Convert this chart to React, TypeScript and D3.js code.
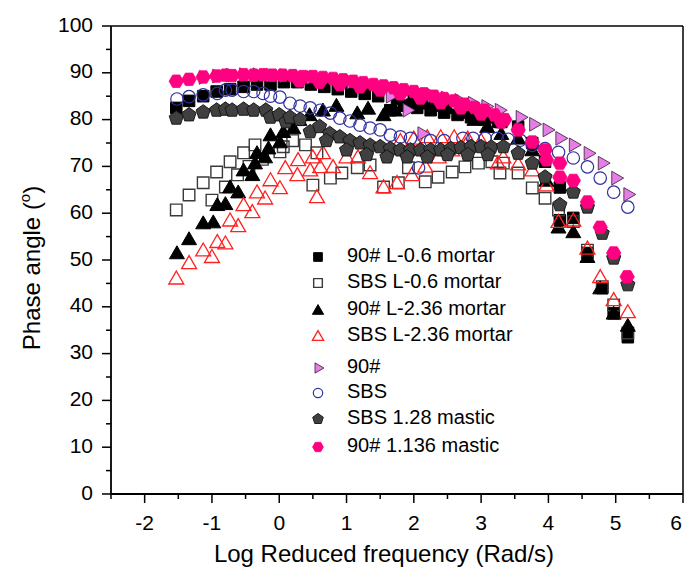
import React from "react";
import * as d3 from "d3";

const xTicks = [-2, -1, 0, 1, 2, 3, 4, 5, 6];
const yTicks = [0, 10, 20, 30, 40, 50, 60, 70, 80, 90, 100];

const m90L06: [number, number][] = [
  [-1.53, 82.5], [-1.34, 84], [-1.13, 85], [-0.93, 86], [-0.73, 86.5], [-0.53, 87], [-0.33, 87.5],
  [-0.13, 87.5], [0.07, 88], [0.27, 88], [0.47, 87.5], [0.67, 87], [0.87, 86.5], [1.07, 86],
  [1.27, 85.5], [1.47, 85], [1.65, 82], [1.85, 83], [2.05, 82.5], [2.25, 82], [2.45, 81.5],
  [2.65, 81], [2.85, 80.5], [3.05, 80], [3.25, 79.5], [1.75, 84.5], [2.0, 84.5], [2.2, 84],
  [2.4, 83.5], [2.7, 82], [2.9, 81.5], [3.1, 80.5], [3.3, 79.5], [3.55, 78.5], [3.76, 75],
  [3.95, 71], [4.17, 65.5], [4.37, 59], [4.17, 58.5], [4.58, 51.5], [4.8, 44], [4.97, 38.6], [5.18, 33.5],
];

const sbsL06: [number, number][] = [
  [-1.53, 60.7], [-1.34, 63.9], [-1.13, 66.5], [-0.93, 68.8], [-0.73, 71], [-0.53, 72.9], [-0.36, 74.6],
  [-1.0, 62.8], [-0.8, 65.6], [-0.62, 68.2], [-0.45, 70], [-0.25, 71.5], [0.01, 73.1], [0.06, 74.2],
  [0.2, 75.5], [0.39, 74.6], [0.56, 72.9], [0.5, 66], [0.76, 67.5], [0.93, 68.6], [1.16, 69.7],
  [1.35, 70.3], [1.55, 65.6], [1.77, 66.5], [1.92, 69.7], [2.17, 66.7], [2.36, 67.7], [2.57, 68.8],
  [2.76, 69.9], [2.96, 70.7], [3.16, 71], [3.33, 70.7], [3.28, 68.6], [3.55, 68.6], [3.76, 65.4],
  [3.95, 63.2], [4.15, 60.7], [4.37, 58.2], [4.58, 52.1], [4.8, 44.3], [4.97, 40.4], [5.18, 34.4],
];

const m90L236: [number, number][] = [
  [-1.52, 51.5], [-1.34, 54.5], [-1.13, 57.9], [-0.98, 58.1], [-0.92, 61.8], [-0.8, 62], [-0.73, 65.6],
  [-0.61, 64.5], [-0.53, 69.2], [-0.4, 68.2], [-0.36, 70.7], [-0.33, 72.9], [-0.21, 72], [-0.16, 73.9],
  [-0.13, 76.7], [0.01, 75.2], [0.06, 77.4], [0.21, 78.2], [0.3, 80], [0.45, 81], [0.65, 82], [0.85, 83],
  [1.16, 81.4], [1.32, 82.4], [1.55, 81], [1.72, 82], [1.9, 83], [2.1, 83.5], [2.3, 83], [2.5, 82.5],
  [2.7, 81.5], [2.9, 80], [3.09, 78.5], [3.3, 77], [3.55, 76], [3.76, 73.5], [3.97, 67], [4.15, 57],
  [4.37, 56], [4.58, 50.7], [4.77, 44], [4.97, 38.6], [5.18, 36],
];

const sbsL236: [number, number][] = [
  [-1.53, 46.1], [-1.34, 49.4], [-1.13, 52.1], [-1.0, 50.7], [-0.92, 53.9], [-0.8, 53.6], [-0.73, 58.5],
  [-0.61, 57.3], [-0.53, 61.8], [-0.4, 60.3], [-0.33, 64.5], [-0.21, 63.2], [-0.13, 67.1], [0.01, 65.4],
  [0.09, 69.7], [0.27, 68.2], [0.28, 71.4], [0.46, 69.2], [0.5, 72], [0.65, 72.9], [0.61, 69.9],
  [0.8, 69.9], [1.0, 72], [1.17, 72], [0.56, 63.5], [1.35, 68.6], [1.55, 65.6], [1.75, 66.5],
  [1.97, 68.2], [2.17, 70], [2.37, 72], [2.57, 73.5], [2.77, 74.5], [1.8, 75.5], [2.0, 76], [2.2, 76.3],
  [2.4, 76.3], [2.6, 76.3], [2.8, 76], [3.0, 75.5], [3.25, 70.7], [3.33, 72], [3.55, 70.5], [3.76, 69.2],
  [3.97, 66], [4.15, 58.2], [4.37, 58.5], [4.58, 52.5], [4.77, 46.4], [4.97, 41.5], [5.18, 38.9],
];

const bin90: [number, number][] = [
  [-1.13, 89], [-0.93, 89.3], [-0.73, 89.5], [-0.53, 89.6], [-0.33, 89.6], [-0.13, 89.5], [0.07, 89.4],
  [0.27, 89.2], [0.47, 89], [0.67, 88.7], [0.87, 88.4], [1.07, 88], [1.27, 87.6], [1.47, 87.1],
  [1.67, 86.6], [1.87, 86.1], [2.07, 85.6], [2.27, 85.1], [2.47, 84.6], [2.67, 84.1], [2.87, 83.5],
  [3.07, 82.8], [3.27, 82], [1.65, 85], [1.9, 82], [2.12, 77], [3.58, 80.5], [3.78, 79], [3.98, 77.8],
  [4.17, 76], [4.37, 74.6], [4.59, 72.8], [4.8, 70.7], [5.0, 67.5], [5.18, 64],
];

const binSBS: [number, number][] = [
  [-1.52, 84.4], [-1.34, 84.9], [-1.13, 85.3], [-0.92, 85.6], [-0.8, 86.3], [-0.7, 86.3], [-0.53, 86],
  [-0.38, 86], [-0.24, 85.6], [-0.13, 85], [0.01, 84.8], [0.16, 83.5], [0.31, 82.9], [0.46, 82.5],
  [0.61, 82], [0.76, 81.4], [0.9, 80.3], [1.05, 79.7], [1.2, 78.8], [1.35, 78.2], [1.5, 77.8],
  [1.65, 76.7], [1.8, 76.3], [1.95, 76], [2.07, 69.7], [2.25, 75.5], [2.45, 75.5], [2.73, 76],
  [2.88, 76], [3.06, 76], [3.24, 76], [3.4, 75.8], [3.58, 75.6], [3.76, 74.5], [3.95, 73.8],
  [4.15, 73], [4.37, 71.8], [4.58, 69.9], [4.77, 67.5], [4.97, 64.5], [5.18, 61.3],
];

const sbsMastic: [number, number][] = [
  [-1.53, 80.3], [-1.34, 81], [-1.13, 81.6], [-0.93, 82], [-0.8, 82.2], [-0.7, 82], [-0.53, 82.2],
  [-0.38, 82], [-0.2, 82], [-0.13, 80.5], [0.0, 81], [0.1, 79.5], [0.16, 80.5], [0.31, 80], [0.46, 77.4],
  [0.6, 78.5], [0.75, 77], [0.9, 76.3], [1.05, 75.5], [1.2, 75], [1.35, 74.5], [1.5, 74.2], [1.65, 73.8],
  [1.8, 73.5], [1.95, 73.5], [2.1, 73.5], [2.25, 73.5], [2.4, 73.5], [2.55, 73.8], [2.7, 74], [2.85, 74.2],
  [3.0, 74.2], [3.15, 74.1], [3.33, 74.2], [0.7, 75.5], [1.0, 73.5], [1.3, 72.5], [1.6, 72], [1.9, 72],
  [2.2, 72], [2.5, 72.5], [2.8, 72.5], [3.1, 72.5], [3.55, 72.8], [3.76, 70.7], [3.95, 67.7],
  [4.17, 61.8], [4.37, 64.5], [4.58, 61.3], [4.8, 55.7], [4.97, 50.4], [5.18, 44.7],
];

const m90Mastic: [number, number][] = [
  [-1.53, 88.2], [-1.34, 88.6], [-1.13, 89.1], [-0.93, 89.3], [-0.8, 89.5], [-0.7, 89.4], [-0.53, 89.6],
  [-0.38, 89.5], [-0.24, 89.6], [-0.1, 89.5], [0.05, 89.5], [0.2, 89.4], [0.35, 89.2], [0.5, 89.2],
  [0.65, 89], [0.8, 88.8], [0.95, 88.5], [1.1, 88.2], [1.25, 87.9], [1.4, 87.5], [1.55, 87.2],
  [1.7, 86.8], [1.85, 86.4], [2.0, 86], [2.15, 85.5], [2.3, 85], [2.45, 84.5], [2.6, 84], [2.75, 83.3],
  [2.9, 82.6], [3.05, 82], [3.2, 81], [3.35, 80], [0.3, 88.3], [0.6, 88], [0.9, 87.5], [1.2, 87],
  [1.5, 86.3], [1.8, 85.5], [2.1, 84.6], [2.4, 83.6], [2.7, 82.5], [3.0, 81.2], [3.3, 79.5],
  [3.55, 77.8], [3.76, 75.2], [3.95, 73.5], [3.97, 71.4], [4.17, 70.7], [4.17, 67.7], [4.37, 67],
  [4.58, 62.4], [4.77, 57], [4.97, 51.5], [5.17, 46.4],
];

const seriesNames = [
  "90# L-0.6 mortar", "SBS L-0.6 mortar", "90# L-2.36 mortar", "SBS L-2.36 mortar",
  "90#", "SBS", "SBS 1.28 mastic", "90# 1.136 mastic",
];

const W = 687, H = 575;
const L = 111, R = 683, T = 26, B = 494;
const x = d3.scaleLinear().domain([-2.5, 6]).range([L, R]);
const y = d3.scaleLinear().domain([0, 100]).range([B, T]);

function poly(cx: number, cy: number, r: number, n: number, rot: number) {
  const pts: string[] = [];
  for (let i = 0; i < n; i++) {
    const a = rot + (i * 2 * Math.PI) / n;
    pts.push(`${(cx + r * Math.cos(a)).toFixed(2)},${(cy + r * Math.sin(a)).toFixed(2)}`);
  }
  return "M" + pts.join("L") + "Z";
}

type Sty = { kind: string; fill: string; stroke: string; sw: number };
const styles: Sty[] = [
  { kind: "square", fill: "#000", stroke: "#000", sw: 1 },
  { kind: "square", fill: "none", stroke: "#3a3a3a", sw: 1.4 },
  { kind: "tri", fill: "#000", stroke: "#000", sw: 1 },
  { kind: "tri", fill: "none", stroke: "#ff2020", sw: 1.3 },
  { kind: "right", fill: "#e57fe5", stroke: "#4a2a4a", sw: 0.9 },
  { kind: "circle", fill: "none", stroke: "#3030a0", sw: 1.2 },
  { kind: "pent", fill: "#404040", stroke: "#111", sw: 0.9 },
  { kind: "hex", fill: "#ff0080", stroke: "#ff0080", sw: 0.8 },
];

function shapePath(kind: string, cx: number, cy: number, s: number) {
  switch (kind) {
    case "square":
      return poly(cx, cy, s * 0.68, 4, Math.PI / 4);
    case "tri":
      return poly(cx, cy + s * 0.12, s * 0.72, 3, -Math.PI / 2);
    case "right":
      return poly(cx, cy, s * 0.66, 3, 0);
    case "pent":
      return poly(cx, cy, s * 0.62, 5, -Math.PI / 2);
    case "hex":
      return poly(cx, cy, s * 0.6, 6, 0);
    default:
      return "";
  }
}

function Marker({ st, cx, cy, s }: { st: Sty; cx: number; cy: number; s: number }) {
  if (st.kind === "circle") {
    return <circle cx={cx} cy={cy} r={s * 0.52} fill={st.fill} stroke={st.stroke} strokeWidth={st.sw} />;
  }
  return <path d={shapePath(st.kind, cx, cy, s)} fill={st.fill} stroke={st.stroke} strokeWidth={st.sw} />;
}

export default function App() {
  const allSeries = [m90L06, sbsL06, m90L236, sbsL236, bin90, binSBS, sbsMastic, m90Mastic];
  const xMinor = d3.range(-2.5, 6.01, 0.5);
  const yMinor = d3.range(0, 100.1, 5);
  const font = "Arial, 'Liberation Sans', Helvetica, sans-serif";
  const legendRows = [257, 283, 310, 336, 368, 393, 419, 447];
  return (
    <svg width={W} height={H} style={{ position: "absolute", left: 0, top: 0, background: "#fff" }} fontFamily={font}>
      <rect x={0} y={0} width={W} height={H} fill="#fff" />
      {allSeries.map((data, si) => (
        <g key={si}>
          {data.map((d, i) => (
            <Marker key={i} st={styles[si]} cx={x(d[0])} cy={y(d[1])} s={12} />
          ))}
        </g>
      ))}
      <line x1={L} x2={R} y1={T} y2={T} stroke="#000" strokeWidth={1.5} />
      <line x1={R} x2={R} y1={T} y2={B} stroke="#000" strokeWidth={1.5} />
      <line x1={L} x2={R} y1={B} y2={B} stroke="#000" strokeWidth={1.8} />
      <line x1={L} x2={L} y1={T} y2={B} stroke="#000" strokeWidth={1.8} />
      {xMinor.map((v, i) => {
        const major = Math.abs(v - Math.round(v)) < 1e-6;
        return <line key={"xt" + i} x1={x(v)} x2={x(v)} y1={B} y2={B + (major ? 9 : 5)} stroke="#000" strokeWidth={1.5} />;
      })}
      {yMinor.map((v, i) => {
        const major = v % 10 === 0;
        return <line key={"yt" + i} x1={L} x2={L - (major ? 9 : 5)} y1={y(v)} y2={y(v)} stroke="#000" strokeWidth={1.5} />;
      })}
      {xTicks.map((v) => (
        <text key={"xl" + v} x={Math.min(x(v), 676)} y={524} fontSize={21} textAnchor="middle" dominantBaseline="middle">
          {v}
        </text>
      ))}
      {yTicks.map((v) => (
        <text key={"yl" + v} x={93} y={y(v)} fontSize={21} textAnchor="end" dominantBaseline="middle">
          {v}
        </text>
      ))}
      <text x={(L + R) / 2 - 13} y={556} fontSize={24} textAnchor="middle" dominantBaseline="middle">
        Log Reduced frequency (Rad/s)
      </text>
      <text transform={`translate(34,${(T + B) / 2 + 8}) rotate(-90)`} fontSize={24} textAnchor="middle" dominantBaseline="middle">
        Phase angle (<tspan dy={-8} fontSize={15}>o</tspan><tspan dy={8}>)</tspan>
      </text>
      {seriesNames.map((name, i) => (
        <g key={"lg" + i}>
          <Marker st={styles[i]} cx={318} cy={legendRows[i]} s={9} />
          <text x={347} y={legendRows[i]} fontSize={20} dominantBaseline="middle">
            {name}
          </text>
        </g>
      ))}
    </svg>
  );
}
